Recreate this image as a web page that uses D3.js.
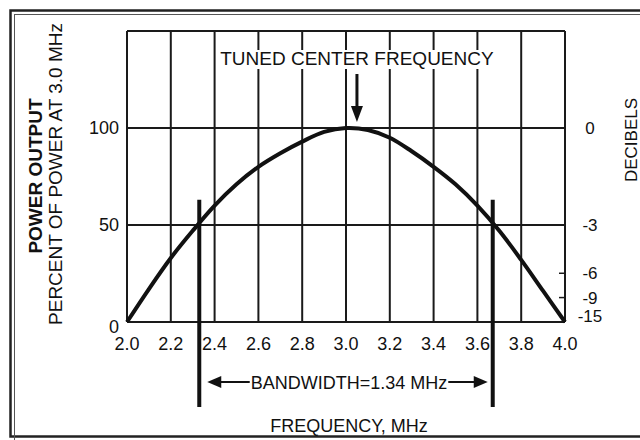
<!DOCTYPE html>
<html>
<head>
<meta charset="utf-8">
<script src="https://cdn.jsdelivr.net/npm/d3@7"></script>
<style>
  html, body { margin: 0; padding: 0; background: #fff; }
  text { font-family: "Liberation Sans", Arial, sans-serif; fill: #111; }
</style>
</head>
<body>
<div id="chart"></div>
<script>
// frequency (MHz) vs relative power output (% of power at 3.0 MHz)
const freq  = [2.0, 2.1, 2.2, 2.3, 2.4, 2.5, 2.6, 2.7, 2.8, 2.9, 3.0, 3.1, 3.2, 3.3, 3.4, 3.5, 3.6, 3.7, 3.8, 3.9, 4.0];
const power = [0, 17, 33, 47, 60, 71, 80, 87, 93, 98, 100, 99, 95, 88, 80, 71, 60, 47, 32, 16, 0];

const xTicks = [2.0, 2.2, 2.4, 2.6, 2.8, 3.0, 3.2, 3.4, 3.6, 3.8, 4.0];
const yTicks = [0, 50, 100];
const dbTicks = [0, -3, -6, -9, -15];
const dbMinor = [-6, -9];
const bandEdges = [2.33, 3.67];
const centerFreq = 3.05;

const width = 640, height = 440;
const margin = {top: 31, right: 72, bottom: 118, left: 127};

const svg = d3.select("#chart").append("svg")
  .attr("width", width).attr("height", height);

svg.append("rect").attr("width", width).attr("height", height).attr("fill", "#fff");

// outer double frame
svg.append("rect")
  .attr("x", 10.5).attr("y", 10.5).attr("width", 660).attr("height", 426)
  .attr("fill", "none").attr("stroke", "#222").attr("stroke-width", 2.5);
svg.append("rect")
  .attr("x", 14.5).attr("y", 14.5).attr("width", 660).attr("height", 440)
  .attr("fill", "none").attr("stroke", "#555").attr("stroke-width", 1);

const xScale = d3.scaleLinear()
  .domain([2.0, 4.0])
  .range([margin.left, width - margin.right - 3]);

const yScale = d3.scaleLinear()
  .domain([0, 150])
  .range([height - margin.bottom, margin.top]);

// grid
const grid = svg.append("g").attr("stroke", "#1a1a1a").attr("stroke-width", 2);

grid.selectAll(".vgrid")
  .data(xTicks)
  .enter()
  .append("line")
    .attr("class", "vgrid")
    .attr("x1", d => xScale(d)).attr("x2", d => xScale(d))
    .attr("y1", yScale(0)).attr("y2", yScale(150));

grid.selectAll(".hgrid")
  .data(yTicks.concat([150]))
  .enter()
  .append("line")
    .attr("class", "hgrid")
    .attr("x1", xScale(2.0)).attr("x2", xScale(4.0))
    .attr("y1", d => yScale(d)).attr("y2", d => yScale(d));

// small inward ticks on the decibel side
grid.selectAll(".dbtick")
  .data(dbMinor)
  .enter()
  .append("line")
    .attr("class", "dbtick")
    .attr("stroke-width", 1.5)
    .attr("x1", xScale(4.0) - 6).attr("x2", xScale(4.0))
    .attr("y1", d => yScale(100 * Math.pow(10, d / 10)))
    .attr("y2", d => yScale(100 * Math.pow(10, d / 10)));

// response curve
const line = d3.line()
  .x((d, i) => xScale(freq[i]))
  .y(d => yScale(d))
  .curve(d3.curveCatmullRom);

svg.append("path")
  .datum(power)
  .attr("fill", "none")
  .attr("stroke", "#111")
  .attr("stroke-width", 4)
  .attr("d", line);

// x tick labels
svg.selectAll(".xlab")
  .data(xTicks)
  .enter()
  .append("text")
    .attr("class", "xlab")
    .attr("x", d => xScale(d))
    .attr("y", yScale(0) + 28)
    .attr("text-anchor", "middle")
    .attr("font-size", 18)
    .text(d => d.toFixed(1));

// left tick labels
svg.selectAll(".ylab")
  .data(yTicks)
  .enter()
  .append("text")
    .attr("class", "ylab")
    .attr("x", xScale(2.0) - 8)
    .attr("y", d => yScale(d) + (d === 0 ? 11 : 6))
    .attr("text-anchor", "end")
    .attr("font-size", 18)
    .text(d => d);

// right (decibel) tick labels
svg.selectAll(".dblab")
  .data(dbTicks)
  .enter()
  .append("text")
    .attr("class", "dblab")
    .attr("x", xScale(4.0) + 25)
    .attr("y", d => yScale(100 * Math.pow(10, d / 10)) + 6)
    .attr("text-anchor", "middle")
    .attr("font-size", 17)
    .text(d => d);

// axis titles
svg.append("text")
  .attr("transform", "translate(42,176) rotate(-90)")
  .attr("text-anchor", "middle")
  .attr("font-size", 19)
  .attr("font-weight", "bold")
  .text("POWER OUTPUT");

svg.append("text")
  .attr("transform", "translate(62,174) rotate(-90)")
  .attr("text-anchor", "middle")
  .attr("font-size", 19)
  .text("PERCENT OF POWER AT 3.0 MHz");

svg.append("text")
  .attr("transform", "translate(637,140) rotate(-90)")
  .attr("text-anchor", "middle")
  .attr("font-size", 17)
  .text("DECIBELS");

svg.append("text")
  .attr("x", (xScale(bandEdges[0]) + xScale(bandEdges[1])) / 2 + 3)
  .attr("y", 432)
  .attr("text-anchor", "middle")
  .attr("font-size", 18)
  .text("FREQUENCY, MHz");

// tuned center frequency label with white backing
const cx = xScale(centerFreq);
const tuned = svg.append("text")
  .attr("x", cx)
  .attr("y", 65)
  .attr("text-anchor", "middle")
  .attr("font-size", 19)
  .text("TUNED CENTER FREQUENCY");
const tb = tuned.node().getBBox();
svg.insert("rect", "text")
  .attr("x", tb.x - 3).attr("y", tb.y + 2)
  .attr("width", tb.width + 6).attr("height", tb.height - 2)
  .attr("fill", "#fff");

svg.append("line")
  .attr("x1", cx).attr("x2", cx)
  .attr("y1", 74).attr("y2", yScale(100) - 20)
  .attr("stroke", "#111").attr("stroke-width", 3);
svg.append("path")
  .attr("d", `M${cx - 6},${yScale(100) - 22} L${cx + 6},${yScale(100) - 22} L${cx},${yScale(100) - 6} Z`)
  .attr("fill", "#111");

// bandwidth markers
svg.selectAll(".band")
  .data(bandEdges)
  .enter()
  .append("line")
    .attr("class", "band")
    .attr("x1", d => xScale(d)).attr("x2", d => xScale(d))
    .attr("y1", yScale(63)).attr("y2", 407)
    .attr("stroke", "#111").attr("stroke-width", 4);

const bx0 = xScale(bandEdges[0]), bx1 = xScale(bandEdges[1]);
const by = 382;
const bw = svg.append("text")
  .attr("x", (bx0 + bx1) / 2 + 3)
  .attr("y", by + 7)
  .attr("text-anchor", "middle")
  .attr("font-size", 18)
  .text("BANDWIDTH=1.34 MHz");
const bb = bw.node().getBBox();

svg.append("line")
  .attr("x1", bx0 + 20).attr("x2", bb.x - 1)
  .attr("y1", by).attr("y2", by)
  .attr("stroke", "#111").attr("stroke-width", 2);
svg.append("line")
  .attr("x1", bb.x + bb.width + 1).attr("x2", bx1 - 18)
  .attr("y1", by).attr("y2", by)
  .attr("stroke", "#111").attr("stroke-width", 2);
svg.append("path")
  .attr("d", `M${bx0 + 8},${by} L${bx0 + 22},${by - 6} L${bx0 + 22},${by + 6} Z`)
  .attr("fill", "#111");
svg.append("path")
  .attr("d", `M${bx1 - 5},${by} L${bx1 - 19},${by - 6} L${bx1 - 19},${by + 6} Z`)
  .attr("fill", "#111");
</script>
</body>
</html>
